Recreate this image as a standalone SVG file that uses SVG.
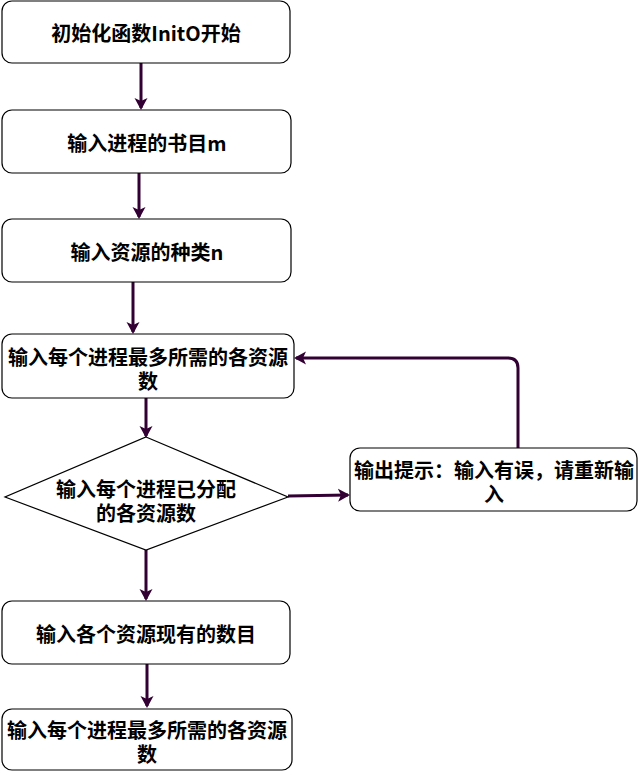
<svg xmlns="http://www.w3.org/2000/svg" width="639" height="771" viewBox="0 0 639 771">
<defs>
<marker id="ah" markerWidth="14" markerHeight="14" refX="10" refY="7" orient="auto" markerUnits="userSpaceOnUse" viewBox="0 0 14 14">
<path d="M0,0.5 L12,7 L0,13.5 L3,7 Z" fill="#330033"/>
</marker>
<style>
.box{fill:#fff;stroke:#000;stroke-width:1.2}
.t{font-family:"Noto Sans CJK SC","Noto Sans",sans-serif;font-weight:bold;font-size:20px;fill:#000;text-anchor:middle;dominant-baseline:central}
.c{fill:none;stroke:#330033;stroke-width:3;marker-end:url(#ah)}
</style>
</defs>
<rect width="639" height="771" fill="#fff"/>
<g id="connectors">
<path class="c" d="M141,63 L141,108"/>
<path class="c" d="M139,173 L139,217"/>
<path class="c" d="M133,282 L133,332"/>
<path class="c" d="M146,398 L146,436"/>
<path class="c" d="M146,550 L146,599"/>
<path class="c" d="M147,664 L147,706"/>
<path class="c" d="M288,496 L348,495"/>
<path class="c" d="M518,448 L518,368 Q518,358 508,358 L296,358"/>
</g>
<g id="n1"><rect class="box" x="2" y="1" width="288" height="62" rx="10"/><text class="t" x="146" y="32">初始化函数InitO开始</text></g>
<g id="n2"><rect class="box" x="2" y="110" width="289" height="63" rx="10"/><text class="t" x="147" y="142">输入进程的书目m</text></g>
<g id="n3"><rect class="box" x="2" y="219" width="289" height="63" rx="10"/><text class="t" x="147" y="251">输入资源的种类n</text></g>
<g id="n4"><rect class="box" x="2" y="334" width="292" height="64" rx="10"/><text class="t" x="148" y="356">输入每个进程最多所需的各资源<tspan x="148" dy="24">数</tspan></text></g>
<g id="n5"><path class="box" d="M146,437 L288,497 L146,550 L5,497 Z"/><text class="t" x="146" y="488">输入每个进程已分配<tspan x="146" dy="24">的各资源数</tspan></text></g>
<g id="n6"><rect class="box" x="350" y="448" width="287" height="63" rx="10"/><text class="t" x="494" y="469">输出提示：输入有误，请重新输<tspan x="494" dy="24">入</tspan></text></g>
<g id="n7"><rect class="box" x="2" y="601" width="288" height="63" rx="10"/><text class="t" x="146" y="633">输入各个资源现有的数目</text></g>
<g id="n8"><rect class="box" x="2" y="709" width="290" height="61" rx="10"/><text class="t" x="147" y="729">输入每个进程最多所需的各资源<tspan x="147" dy="24">数</tspan></text></g>
</svg>
